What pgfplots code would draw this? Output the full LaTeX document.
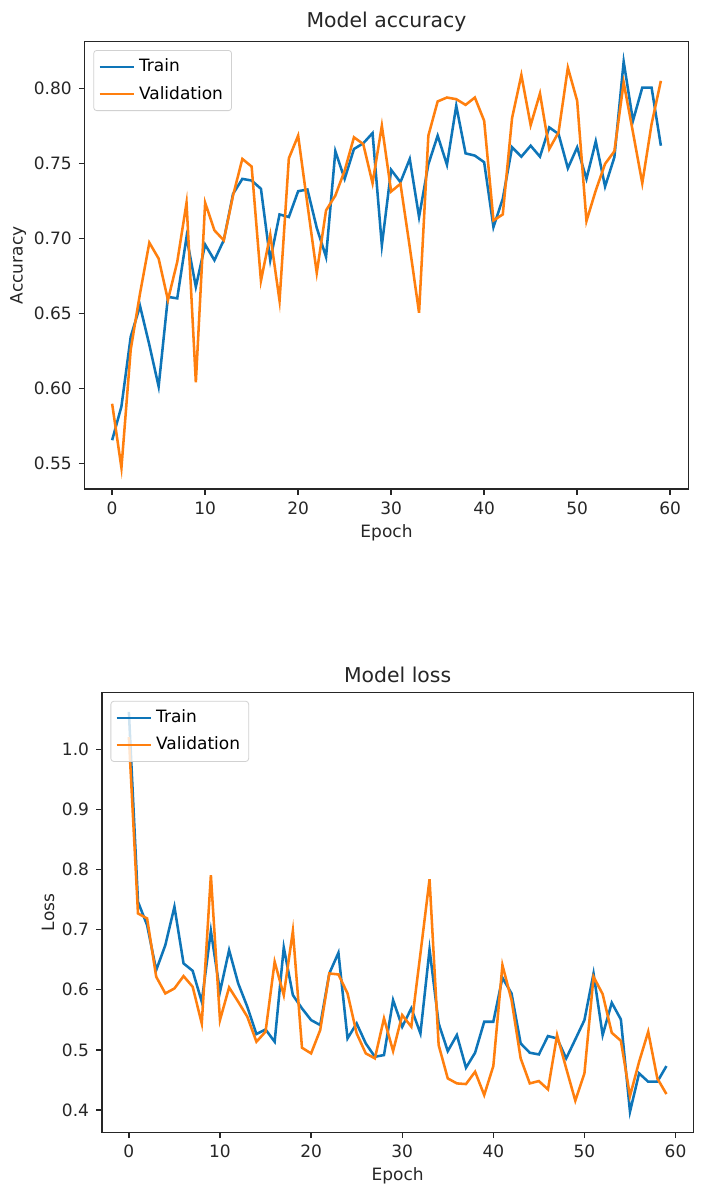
\documentclass[border=0pt]{standalone}
\usepackage{pgfplots}
\pgfplotsset{compat=1.18}
\usepackage{fontspec}
\setmainfont{DejaVu Sans}
\definecolor{mplblue}{RGB}{14,117,184}
\definecolor{mplorange}{RGB}{255,127,14}
\pgfplotsset{
  mpl/.style={
    scale only axis,
    axis line style={line width=0.68pt, black!85},
    every tick/.style={line width=0.68pt, black!85},
    tick align=outside,
    major tick length=2.96pt,
    xtick pos=lower, ytick pos=left,
    /pgf/number format/assume math mode=true,
    ticklabel style={font=\fontsize{8.5}{10}\selectfont, text=black!85},
    label style={font=\fontsize{8.5}{10}\selectfont, text=black!85},
    title style={font=\fontsize{10.2}{12}\selectfont, text=black!85, yshift=-4.5pt},
    ylabel shift=-3pt,
    xlabel shift=-2pt,
    xmin=-2.95, xmax=61.95,
    xtick={0,10,20,30,40,50,60},
    xlabel={Epoch},
    legend cell align=left,
    legend style={at={(0.0143,0.9814)}, anchor=north west,
      draw=black!18, rounded corners=1.5pt, fill=white, fill opacity=0.8, text opacity=1,
      font=\fontsize{8.5}{10}\selectfont, inner sep=2.3pt, row sep=1.6pt},
    every axis plot/.append style={line width=1.27pt, mark=none},
  }
}
\begin{document}
\begin{tikzpicture}
\path[use as bounding box] (0,0) rectangle (352pt,597pt);
\begin{axis}[mpl,
  at={(42.35pt,352.5pt)}, anchor=south west,
  width=301.8pt, height=223.65pt,
  ymin=0.533, ymax=0.831,
  ytick={0.55,0.60,0.65,0.70,0.75,0.80},
  yticklabel style={/pgf/number format/fixed, /pgf/number format/fixed zerofill, /pgf/number format/precision=2},
  ylabel={Accuracy},
  title={Model accuracy},
]
\addplot[mplblue] table {
0 0.5655
1 0.588
2 0.6345
3 0.6549
4 0.629
5 0.6013
6 0.661
7 0.660
8 0.7009
9 0.6677
10 0.6958
11 0.6854
12 0.6987
13 0.7296
14 0.7396
15 0.7385
16 0.733
17 0.6854
18 0.7159
19 0.7142
20 0.7314
21 0.7325
22 0.707
23 0.6876
24 0.758
25 0.7396
26 0.7595
27 0.7633
28 0.7701
29 0.6953
30 0.7456
31 0.7374
32 0.7529
33 0.7142
34 0.7493
35 0.7684
36 0.749
37 0.7883
38 0.7566
39 0.7551
40 0.7507
41 0.7075
42 0.7263
43 0.7606
44 0.7544
45 0.7617
46 0.7544
47 0.7739
48 0.7695
49 0.7467
50 0.7606
51 0.7396
52 0.7646
53 0.7345
54 0.754
55 0.8177
56 0.7783
57 0.8004
58 0.8004
59 0.7617
};
\addlegendentry{Train}
\addplot[mplorange] table {
0 0.5898
1 0.5471
2 0.626
3 0.6633
4 0.6971
5 0.6865
6 0.6589
7 0.6843
8 0.7237
9 0.6040
10 0.7237
11 0.7053
12 0.6987
13 0.7285
14 0.7529
15 0.7478
16 0.6717
17 0.7024
18 0.6584
19 0.7533
20 0.7684
21 0.7225
22 0.677
23 0.7186
24 0.7285
25 0.7451
26 0.7673
27 0.7628
28 0.7367
29 0.775
30 0.7312
31 0.7363
32 0.6942
33 0.6504
34 0.7684
35 0.7912
36 0.7938
37 0.7927
38 0.7889
39 0.7938
40 0.7783
41 0.7119
42 0.7159
43 0.7801
44 0.8088
45 0.7754
46 0.7965
47 0.7595
48 0.7706
49 0.8137
50 0.7916
51 0.7115
52 0.7319
53 0.7496
54 0.758
55 0.8038
56 0.7706
57 0.7367
58 0.7761
59 0.8049
};
\addlegendentry{Validation}
\end{axis}
\begin{axis}[mpl,
  at={(51pt,30.85pt)}, anchor=south west,
  width=295.65pt, height=219.8pt,
  ymin=0.363, ymax=1.094,
  ytick={0.4,0.5,0.6,0.7,0.8,0.9,1.0},
  yticklabel style={/pgf/number format/fixed, /pgf/number format/fixed zerofill, /pgf/number format/precision=1},
  ylabel={Loss},
  title={Model loss},
]
\addplot[mplblue] table {
0 1.062
1 0.7463
2 0.7075
3 0.6327
4 0.6742
5 0.7380
6 0.6438
7 0.6316
8 0.580
9 0.698
10 0.5967
11 0.666
12 0.6105
13 0.5717
14 0.5263
15 0.534
16 0.5136
17 0.6704
18 0.5911
19 0.569
20 0.5496
21 0.5413
22 0.6271
23 0.6615
24 0.5191
25 0.544
26 0.5108
27 0.4886
28 0.4914
29 0.5828
30 0.5385
31 0.5690
32 0.5274
33 0.667
34 0.544
35 0.498
36 0.5247
37 0.4704
38 0.4953
39 0.5468
40 0.5468
41 0.620
42 0.5939
43 0.5108
44 0.4953
45 0.4925
46 0.523
47 0.5191
48 0.4859
49 0.5175
50 0.5496
51 0.6271
52 0.5247
53 0.5784
54 0.5507
55 0.3972
56 0.461
57 0.4471
58 0.4471
59 0.4731
};
\addlegendentry{Train}
\addplot[mplorange] table {
0 1.02
1 0.7269
2 0.7186
3 0.6216
4 0.5939
5 0.6022
6 0.6227
7 0.605
8 0.544
9 0.7906
10 0.5496
11 0.6039
12 0.580
13 0.5551
14 0.5136
15 0.5302
16 0.6465
17 0.5911
18 0.698
19 0.5036
20 0.4942
21 0.533
22 0.6271
23 0.6255
24 0.5939
25 0.5274
26 0.4942
27 0.4859
28 0.5524
29 0.4981
30 0.5579
31 0.5385
32 0.66
33 0.7839
34 0.508
35 0.4526
36 0.4443
37 0.4432
38 0.4637
39 0.425
40 0.4731
41 0.641
42 0.5828
43 0.4859
44 0.4443
45 0.4482
46 0.4343
47 0.5247
48 0.4693
49 0.4155
50 0.461
51 0.6216
52 0.5928
53 0.5285
54 0.5152
55 0.4233
56 0.4803
57 0.5302
58 0.4526
59 0.4266
};
\addlegendentry{Validation}
\end{axis}
\end{tikzpicture}
\end{document}
